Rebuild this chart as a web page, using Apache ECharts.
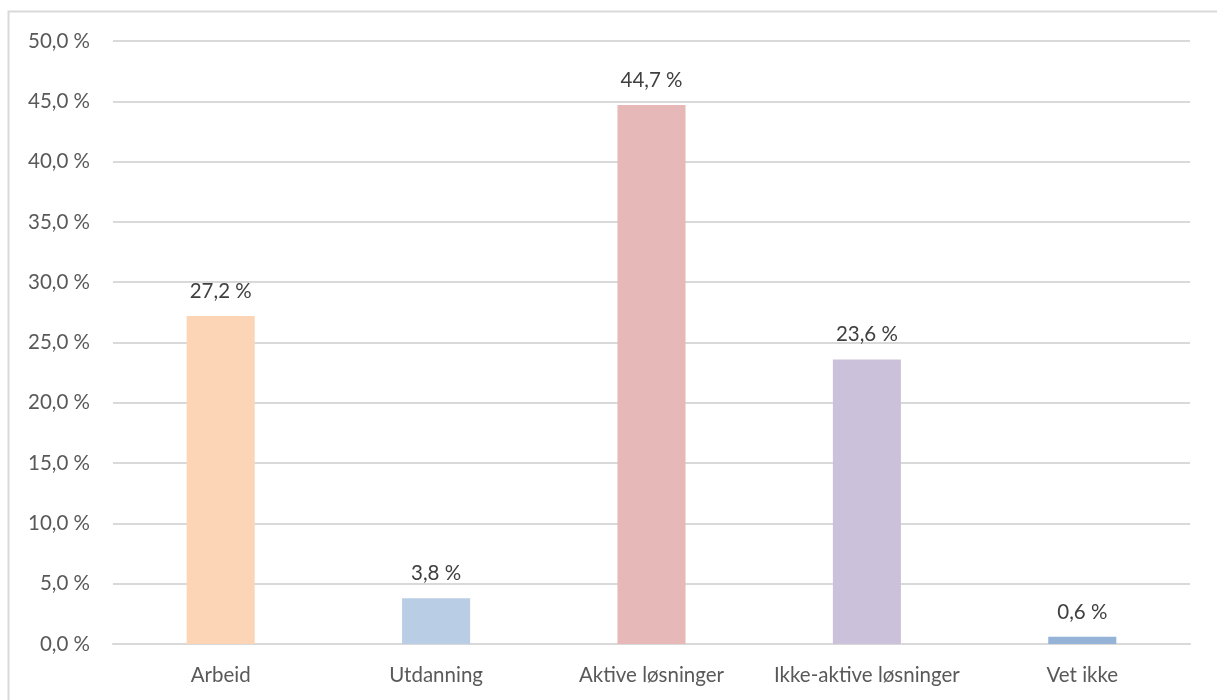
<!DOCTYPE html>
<html>
<head>
<meta charset="utf-8">
<script src="https://cdn.jsdelivr.net/npm/echarts@6/dist/echarts.min.js"></script>
<style>
html,body{margin:0;padding:0;background:#fff;}
#c{width:1217px;height:700px;}
</style>
</head>
<body>
<div id="c"></div>
<script>
const categories = ["Arbeid", "Utdanning", "Aktive løsninger", "Ikke-aktive løsninger", "Vet ikke"];
const values = [27.2, 3.8, 44.7, 23.6, 0.6];
const barColors = ["#FBD5B5", "#B9CDE5", "#E6B9B8", "#CCC1DA", "#95B3D7"];
const yMin = 0, yMax = 50, yStep = 5;

const fmt = v => v.toFixed(1).replace('.', ',') + ' %';
const font = 'Lato, "Open Sans", sans-serif';

const chart = echarts.init(document.getElementById('c'), null, {renderer: 'canvas'});
chart.setOption({
  animation: false,
  backgroundColor: '#fff',
  graphic: [{
    type: 'polyline',
    shape: {points: [[8.5, 720], [8.5, 11.5], [1230, 11.5]]},
    style: {stroke: '#D9D9D9', lineWidth: 2, fill: null},
    silent: true
  }],
  grid: {left: 113, right: 27, top: 41, bottom: 56, containLabel: false},
  xAxis: {
    type: 'category',
    data: categories,
    axisTick: {show: false},
    axisLine: {show: true, lineStyle: {color: '#D9D9D9', width: 2}},
    axisLabel: {color: '#595959', fontSize: 20.5, fontFamily: font, margin: 21, interval: 0, hideOverlap: false}
  },
  yAxis: {
    type: 'value',
    min: yMin, max: yMax, interval: yStep,
    axisLine: {show: false},
    axisTick: {show: false},
    splitLine: {lineStyle: {color: '#D9D9D9', width: 2}},
    axisLabel: {color: '#595959', fontSize: 20.5, fontFamily: font, margin: 23, formatter: v => fmt(v)}
  },
  series: [{
    type: 'bar',
    data: values.map((v, i) => ({value: v, itemStyle: {color: barColors[i]}})),
    barWidth: '31.6%',
    label: {show: true, position: 'top', distance: 14, color: '#404040', fontSize: 20.5, fontFamily: font, formatter: p => fmt(p.value)}
  }]
});
</script>
</body>
</html>
